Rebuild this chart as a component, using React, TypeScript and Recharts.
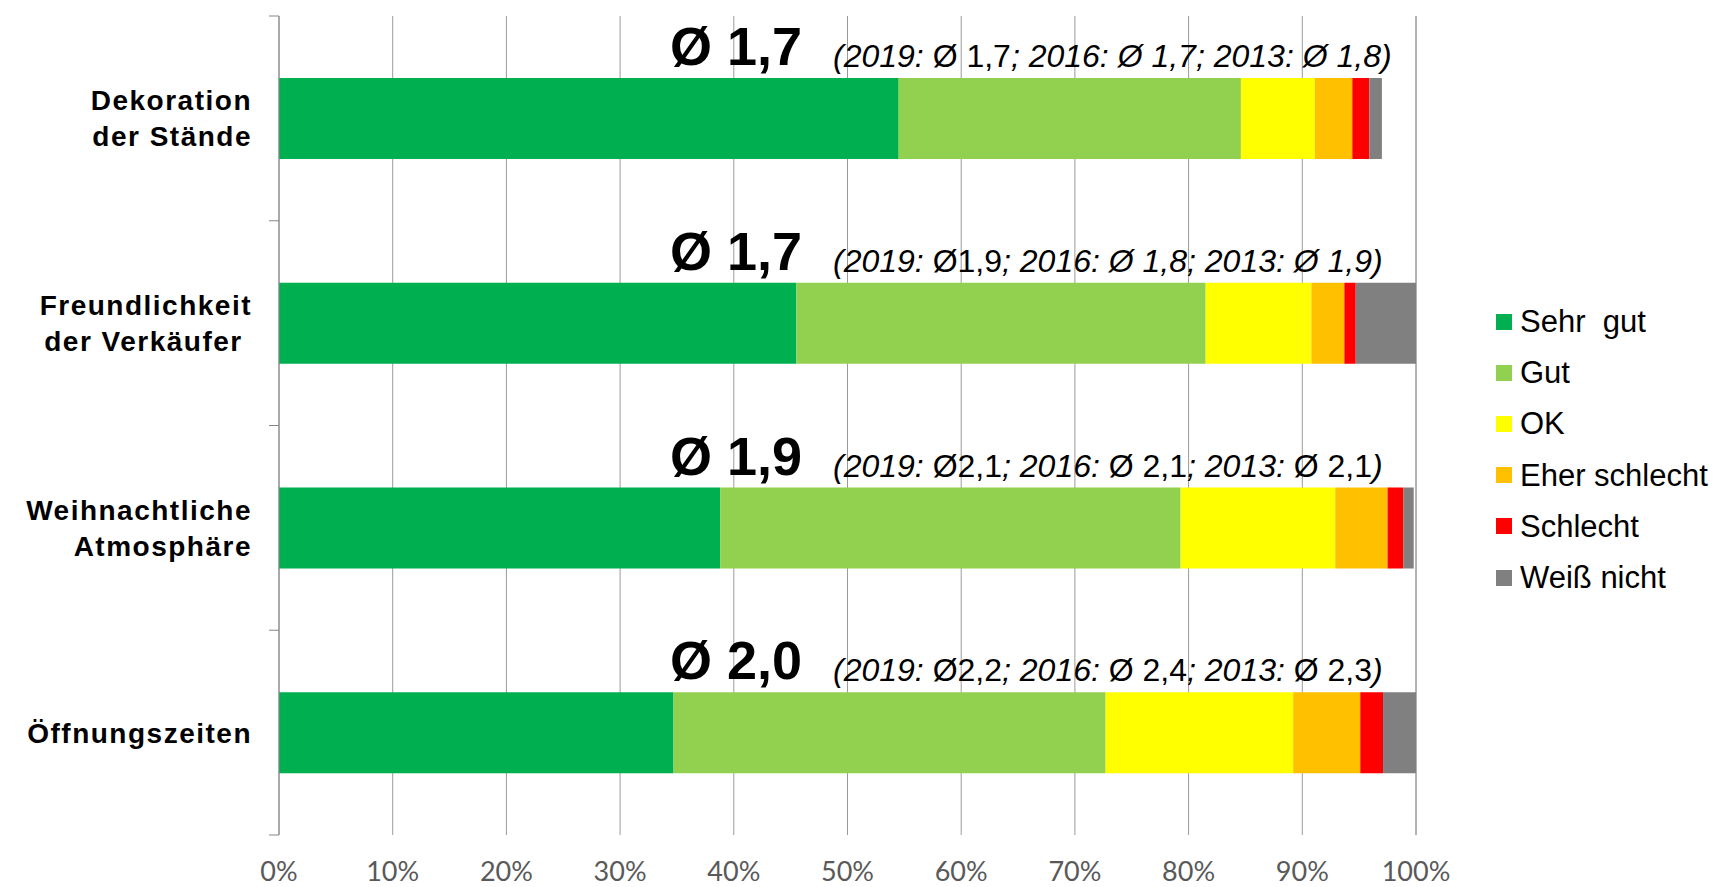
import { BarChart, Bar, XAxis, YAxis, CartesianGrid, Legend, LabelList } from "recharts";

const CATEGORIES = [
  "Dekoration\nder Stände",
  "Freundlichkeit\nder Verkäufer ",
  "Weihnachtliche\nAtmosphäre",
  "Öffnungszeiten",
];

// shares in percent, one value per category
const SEHR_GUT = [54.5, 45.5, 38.8, 34.7];
const GUT = [30.1, 36.0, 40.5, 38.0];
const OK = [6.5, 9.3, 13.6, 16.5];
const EHER_SCHLECHT = [3.3, 2.9, 4.6, 5.9];
const SCHLECHT = [1.5, 1.0, 1.4, 2.0];
const WEISS_NICHT = [1.1, 5.3, 0.9, 2.9];

// current average and previous years
const CURRENT_AVG = ["Ø 1,7", "Ø 1,7", "Ø 1,9", "Ø 2,0"];
const PREV_YEARS = ["2019", "2016", "2013"];
const PREV_AVG = [
  ["Ø 1,7", "Ø 1,7", "Ø 1,8"],
  ["Ø1,9", "Ø 1,8", "Ø 1,9"],
  ["Ø2,1", "Ø 2,1", "Ø 2,1"],
  ["Ø2,2", "Ø 2,4", "Ø 2,3"],
];
// which of the previous values are set upright (the rest is italic)
const PREV_UPRIGHT = [
  [true, false, false],
  [true, false, false],
  [true, true, true],
  [true, true, true],
];

const X_TICKS = [0, 10, 20, 30, 40, 50, 60, 70, 80, 90, 100];

const SERIES = [
  { key: "sehrGut", name: "Sehr  gut", color: "#00B050", values: SEHR_GUT },
  { key: "gut", name: "Gut", color: "#92D050", values: GUT },
  { key: "ok", name: "OK", color: "#FFFF00", values: OK },
  { key: "eherSchlecht", name: "Eher schlecht", color: "#FFC000", values: EHER_SCHLECHT },
  { key: "schlecht", name: "Schlecht", color: "#FF0000", values: SCHLECHT },
  { key: "weissNicht", name: "Weiß nicht", color: "#808080", values: WEISS_NICHT },
];

const data = CATEGORIES.map((name, i) => {
  const row: Record<string, any> = { name };
  SERIES.forEach((s) => (row[s.key] = s.values[i]));
  return row;
});

const FONT = '"Liberation Sans", Arial, sans-serif';
const W = 1718;
const H = 887;
const PLOT_LEFT = 279;
const PLOT_RIGHT = 1416;
const PLOT_TOP = 16;
const PLOT_BOTTOM = 835;
const BAND = (PLOT_BOTTOM - PLOT_TOP) / CATEGORIES.length;

function CategoryTick(props: any) {
  const { y, payload, index } = props;
  const lines = String(payload.value).split("\n");
  const first = lines.length > 1 ? y - 8 : y + 10;
  return (
    <g>
      <line x1={PLOT_LEFT - 10} x2={PLOT_LEFT} y1={y - BAND / 2} y2={y - BAND / 2} stroke="#868686" />
      {index === CATEGORIES.length - 1 && (
        <line x1={PLOT_LEFT - 10} x2={PLOT_LEFT} y1={y + BAND / 2} y2={y + BAND / 2} stroke="#868686" />
      )}
      <text
        textAnchor="end"
        fontFamily={FONT}
        fontWeight="bold"
        fontSize={28}
        letterSpacing={1.5}
        fill="#000"
        style={{ whiteSpace: "pre" }}
      >
        {lines.map((l, i) => (
          <tspan key={i} x={252} y={first + i * 36}>
            {l}
          </tspan>
        ))}
      </text>
    </g>
  );
}

function PercentTick(props: any) {
  const { x, payload } = props;
  return (
    <text x={x} y={881} textAnchor="middle" fontFamily="Lato, sans-serif" fontSize={27} fill="#595959">
      {payload.value}%
    </text>
  );
}

function AvgLabel(props: any) {
  const vb = props.viewBox || props;
  const x = vb.x ?? props.x;
  const y = vb.y ?? props.y;
  let idx = props.index;
  if (idx == null || CATEGORIES[idx] !== props.value) idx = CATEGORIES.indexOf(props.value);
  if (idx < 0) return null;
  const prev = PREV_AVG[idx];
  const upright = PREV_UPRIGHT[idx];
  const it = "italic";
  return (
    <g>
      <text x={x + 391} y={y - 13} fontFamily={FONT} fontWeight="bold" fontSize={54} fill="#000">
        {CURRENT_AVG[idx]}
      </text>
      <text x={x + 554} y={y - 11} fontFamily={FONT} fontSize={32} fill="#000" style={{ whiteSpace: "pre" }}>
        <tspan fontStyle={it}>(</tspan>
        {PREV_YEARS.map((yr, k) => (
          <tspan key={yr}>
            <tspan fontStyle={it}>{`${k > 0 ? " " : ""}${yr}: `}</tspan>
            <tspan fontStyle={upright[k] ? "normal" : it}>{prev[k]}</tspan>
            <tspan fontStyle={it}>{k < PREV_YEARS.length - 1 ? ";" : ")"}</tspan>
          </tspan>
        ))}
      </text>
    </g>
  );
}

function LegendContent() {
  return (
    <div style={{ fontFamily: FONT }}>
      {SERIES.map((s) => (
        <div key={s.key} style={{ height: 51.2, display: "flex", alignItems: "center" }}>
          <span style={{ width: 16, height: 16, background: s.color, marginRight: 8, flex: "none" }} />
          <span style={{ fontSize: 31, lineHeight: 1, color: "#000", whiteSpace: "pre" }}>{s.name}</span>
        </div>
      ))}
    </div>
  );
}

export default function App() {
  return (
    <div style={{ position: "absolute", left: 0, top: 0, width: W, height: H, background: "#fff" }}>
      <BarChart
        width={W}
        height={H}
        data={data}
        layout="vertical"
        margin={{ top: PLOT_TOP, right: W - PLOT_RIGHT, bottom: 0, left: 0 }}
      >
        <CartesianGrid horizontal={false} stroke="#9a9a9a" />
        <XAxis
          type="number"
          domain={[0, 100]}
          ticks={X_TICKS}
          interval={0}
          axisLine={false}
          tickLine={false}
          tickSize={0}
          tickMargin={0}
          height={H - PLOT_BOTTOM}
          tick={<PercentTick />}
        />
        <YAxis
          type="category"
          dataKey="name"
          width={PLOT_LEFT}
          axisLine={{ stroke: "#868686" }}
          tickLine={false}
          tick={<CategoryTick />}
          interval={0}
        />
        <Legend
          layout="vertical"
          align="center"
          verticalAlign="middle"
          wrapperStyle={{ left: 1496, top: 296, width: 222 }}
          content={<LegendContent />}
        />
        {SERIES.map((s, i) => (
          <Bar
            key={s.key}
            dataKey={s.key}
            name={s.name}
            stackId="a"
            fill={s.color}
            barSize={81}
            isAnimationActive={false}
          >
            {i === 0 && <LabelList dataKey="name" content={<AvgLabel />} />}
          </Bar>
        ))}
      </BarChart>
    </div>
  );
}
